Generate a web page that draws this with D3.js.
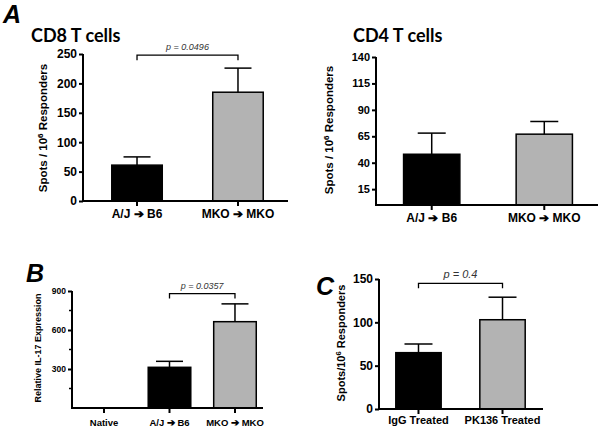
<!DOCTYPE html>
<html>
<head>
<meta charset="utf-8">
<script src="https://cdn.jsdelivr.net/npm/d3@7"></script>
<style>
  html, body { margin: 0; padding: 0; background: #fff; }
  svg { display: block; }
  .tick text { font-family: "Liberation Sans", Arial, sans-serif; font-weight: bold; }
</style>
</head>
<body>
<svg id="chart" width="600" height="428"></svg>
<script>
// ---- Data ----
const cd8Categories = ["A/J \u2794 B6", "MKO \u2794 MKO"];
const cd8Means = [61, 185];
const cd8Sem = [14, 41];
const cd8Ticks = [0, 50, 100, 150, 200, 250];

const cd4Categories = ["A/J \u2794 B6", "MKO \u2794 MKO"];
const cd4Means = [48, 67];
const cd4Sem = [20, 12];
const cd4Ticks = [15, 40, 65, 90, 115, 140];

const il17Categories = ["Native", "A/J \u2794 B6", "MKO \u2794 MKO"];
const il17Means = [0, 313, 664];
const il17Sem = [0, 46, 137];
const il17Ticks = [300, 600, 900];
const il17MinorTicks = [150, 450, 750];

const nkCategories = ["IgG Treated", "PK136 Treated"];
const nkMeans = [65, 103];
const nkSem = [10, 26];
const nkTicks = [0, 50, 100, 150];

const barColors = ["#000000", "#b3b3b3"];
const pValueCD8 = "p = 0.0496";
const pValueIL17 = "p = 0.0357";
const pValueNK = "p = 0.4";

const svg = d3.select("#chart");
const FONT = "'Liberation Sans', Arial, sans-serif";

function drawPanel(cfg) {
  const g = svg.append("g");
  const y = d3.scaleLinear().domain(cfg.domain).range([cfg.y0, cfg.yTop]);
  const x = d3.scaleBand().domain(cfg.categories).range([cfg.left, cfg.right])
    .paddingInner(cfg.pi).paddingOuter(cfg.po);
  const bw = cfg.barWidth || x.bandwidth();

  cfg.categories.forEach((c, i) => {
    const m = cfg.means[i];
    if (m <= 0) return;
    const cx = x(c) + x.bandwidth() / 2;
    const colorIdx = cfg.colorIdx ? cfg.colorIdx[i] : i;
    g.append("rect")
      .attr("x", cx - bw / 2)
      .attr("y", y(m))
      .attr("width", bw)
      .attr("height", y(0) - y(m))
      .attr("fill", barColors[colorIdx])
      .attr("stroke", "#000")
      .attr("stroke-width", 1.5);
    const top = m + cfg.sem[i];
    g.append("line").attr("x1", cx).attr("x2", cx).attr("y1", y(m)).attr("y2", y(top))
      .attr("stroke", "#000").attr("stroke-width", 1.5);
    g.append("line").attr("x1", cx - cfg.cap / 2).attr("x2", cx + cfg.cap / 2)
      .attr("y1", y(top)).attr("y2", y(top))
      .attr("stroke", "#000").attr("stroke-width", 1.5);
  });

  const yAxis = d3.axisLeft(y).tickValues(cfg.ticks).tickSize(4).tickPadding(2).tickFormat(d3.format("d"));
  const ya = g.append("g").attr("transform", `translate(${cfg.left},0)`).call(yAxis);
  ya.attr("font-family", FONT);
  ya.select(".domain").attr("d", `M-0,${cfg.yTop}V${cfg.y0}`).attr("stroke-width", 2);
  ya.selectAll(".tick line").attr("stroke-width", 2);
  ya.selectAll(".tick text").attr("font-size", cfg.tickFont).attr("fill", "#000");
  if (cfg.minorTicks) {
    g.append("g").selectAll("line").data(cfg.minorTicks).join("line")
      .attr("x1", cfg.left - 3).attr("x2", cfg.left)
      .attr("y1", d => y(d)).attr("y2", d => y(d))
      .attr("stroke", "#000").attr("stroke-width", 1.5);
  }

  const xAxis = d3.axisBottom(x).tickSize(5).tickPadding(cfg.xPad);
  const xa = g.append("g").attr("transform", `translate(0,${cfg.y0})`).call(xAxis);
  xa.attr("font-family", FONT);
  xa.select(".domain").attr("d", `M${cfg.left - 1},0H${cfg.axisEnd}`).attr("stroke-width", 2);
  xa.selectAll(".tick line").attr("stroke-width", 2);
  xa.selectAll(".tick text").attr("font-size", cfg.catFont).attr("fill", "#000");

  const yl = g.append("text")
    .attr("transform", `translate(${cfg.ylx},${cfg.yly}) rotate(-90)`)
    .attr("text-anchor", "middle")
    .attr("font-family", FONT).attr("font-weight", "bold")
    .attr("font-size", cfg.ylFont);
  if (cfg.ylParts) {
    yl.append("tspan").text(cfg.ylParts[0]);
    yl.append("tspan").attr("dy", -4).attr("font-size", cfg.ylFont * 0.7).text("6");
    yl.append("tspan").attr("dy", 4).text(cfg.ylParts[1]);
  } else {
    yl.text(cfg.yLabel);
  }

  if (cfg.bracket) {
    const b = cfg.bracket;
    const x1 = x(cfg.categories[b.i]) + x.bandwidth() / 2;
    const x2 = x(cfg.categories[b.j]) + x.bandwidth() / 2;
    const by = y(b.level);
    g.append("path")
      .attr("d", `M${x1},${by + 5}V${by}H${x2}V${by + 5}`)
      .attr("fill", "none").attr("stroke", "#000").attr("stroke-width", 1.3);
    g.append("text").attr("x", (x1 + x2) / 2).attr("y", by - 5)
      .attr("text-anchor", "middle")
      .attr("font-family", FONT).attr("font-style", "italic")
      .attr("font-size", b.font).attr("fill", "#333").text(b.text);
  }

  if (cfg.title) {
    g.append("text").attr("x", cfg.title.x).attr("y", cfg.title.y)
      .attr("font-family", "Lato, 'Open Sans', sans-serif").attr("font-weight", "bold")
      .attr("font-size", 18).text(cfg.title.text);
  }
  if (cfg.letter) {
    g.append("text").attr("x", cfg.letter.x).attr("y", cfg.letter.y)
      .attr("font-family", FONT).attr("font-weight", "bold").attr("font-style", "italic")
      .attr("font-size", 25).text(cfg.letter.text);
  }
}

drawPanel({
  categories: cd8Categories, means: cd8Means, sem: cd8Sem, ticks: cd8Ticks,
  domain: [0, 250], y0: 201, yTop: 54, left: 83, right: 292, axisEnd: 288,
  pi: 0.5, po: 0.285, cap: 27, tickFont: 12, catFont: 12, xPad: 3,
  ylx: 47, yly: 128, ylFont: 11.5, ylParts: ["Spots / 10", " Responders"],
  bracket: { i: 0, j: 1, level: 248, text: pValueCD8, font: 9 },
  title: { x: 31, y: 42, text: "CD8 T cells" },
  letter: { x: 3, y: 23, text: "A" }
});

drawPanel({
  categories: cd4Categories, means: cd4Means, sem: cd4Sem, ticks: cd4Ticks,
  domain: [0, 140], y0: 205, yTop: 57, left: 376, right: 600, axisEnd: 598,
  pi: 0.5, po: 0.245, cap: 28, tickFont: 11, catFont: 12, xPad: 3,
  ylx: 333, yly: 130, ylFont: 11.5, ylParts: ["Spots / 10", " Responders"],
  title: { x: 353, y: 42, text: "CD4 T cells" }
});

drawPanel({
  categories: il17Categories, means: il17Means, sem: il17Sem, ticks: il17Ticks,
  minorTicks: il17MinorTicks, colorIdx: [0, 0, 1],
  domain: [0, 900], y0: 408, yTop: 291, left: 72, right: 267, axisEnd: 263,
  pi: 0.35, po: 0.164, cap: 27, tickFont: 8.5, catFont: 9.5, xPad: 6,
  ylx: 41, yly: 348, ylFont: 9, yLabel: "Relative IL-17 Expression",
  bracket: { i: 1, j: 2, level: 880, text: pValueIL17, font: 9 },
  letter: { x: 26, y: 282, text: "B" }
});

drawPanel({
  categories: nkCategories, means: nkMeans, sem: nkSem, ticks: nkTicks,
  domain: [0, 150], y0: 409, yTop: 279, left: 379, right: 542, axisEnd: 543,
  pi: 0.46, po: 0.2, cap: 28, tickFont: 12, catFont: 11, xPad: 2,
  ylx: 345, yly: 343, ylFont: 11, ylParts: ["Spots/10", " Responders"],
  bracket: { i: 0, j: 1, level: 145, text: pValueNK, font: 11 },
  letter: { x: 316, y: 295, text: "C" }
});
</script>
</body>
</html>
